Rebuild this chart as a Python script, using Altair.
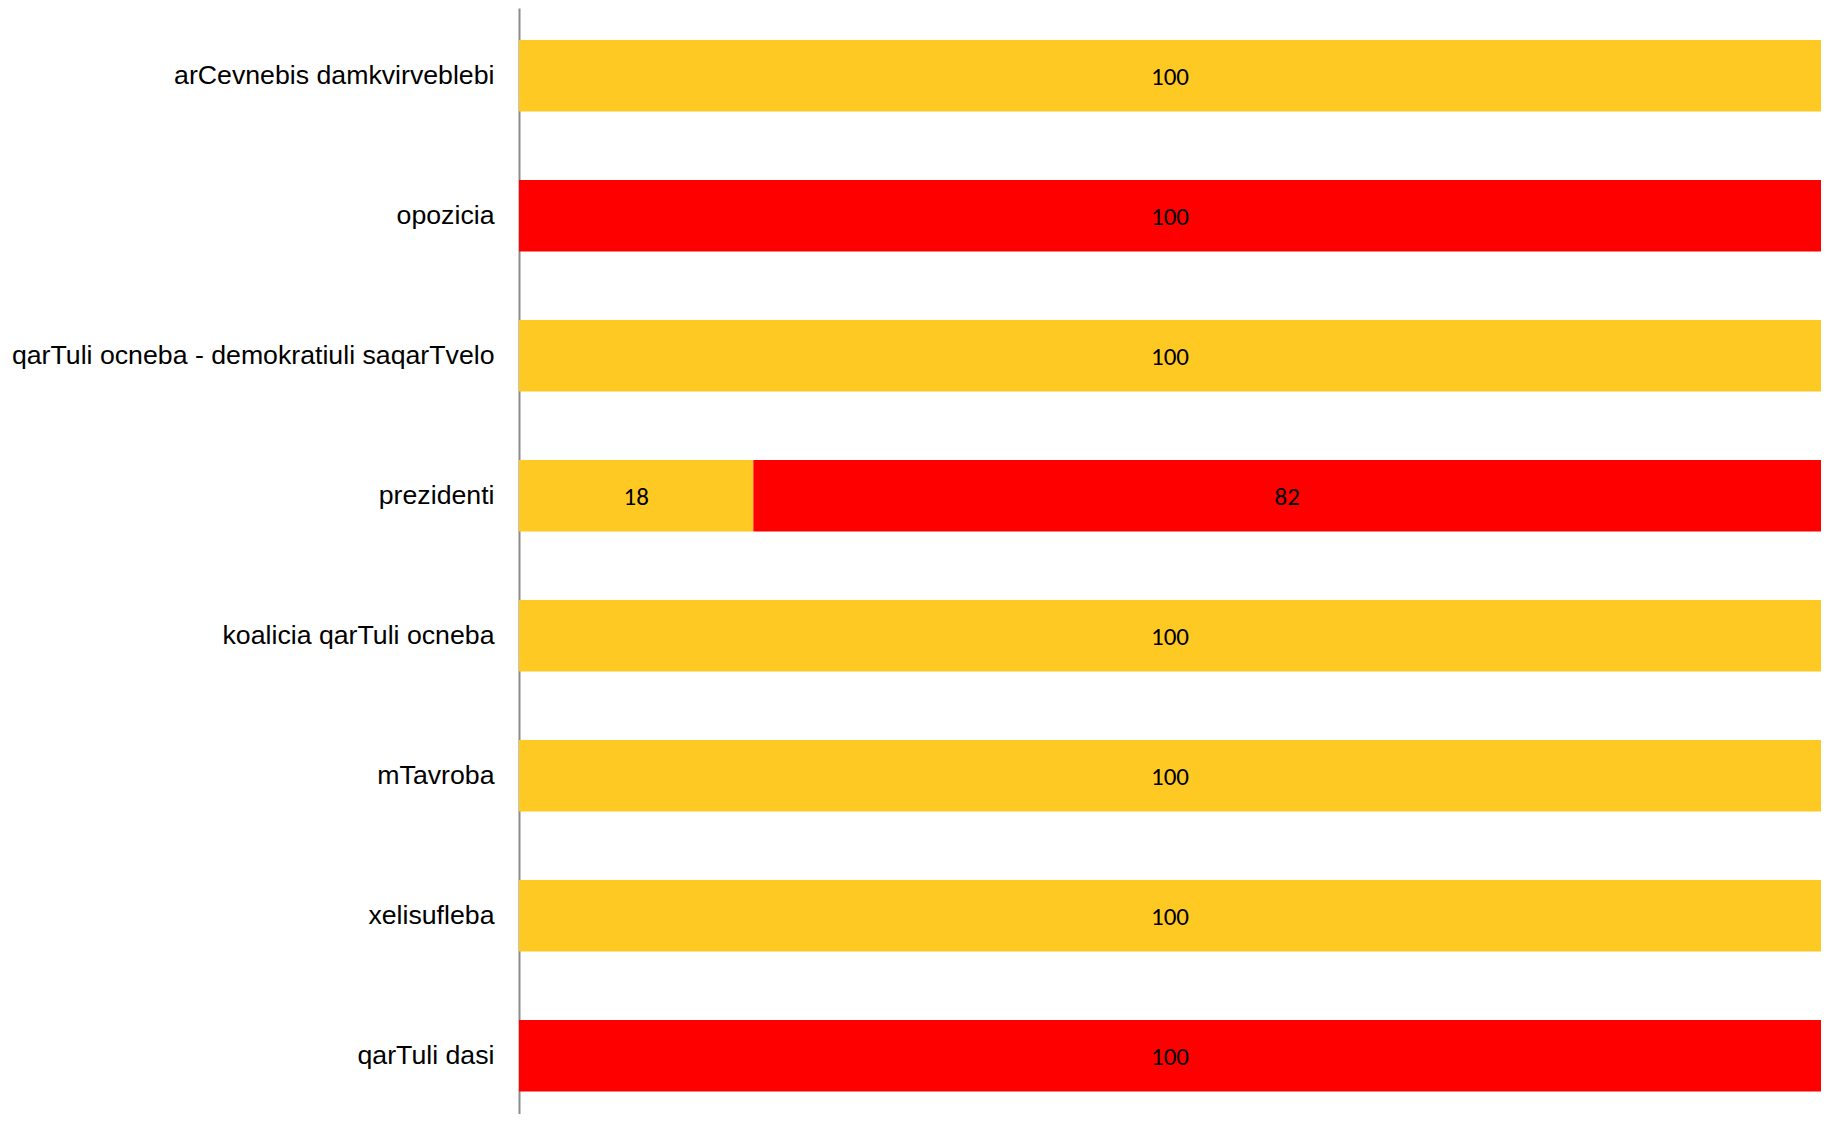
import altair as alt
import pandas as pd

categories = [
    "arCevnebis damkvirveblebi",
    "opozicia",
    "qarTuli ocneba - demokratiuli saqarTvelo",
    "prezidenti",
    "koalicia qarTuli ocneba",
    "mTavroba",
    "xelisufleba",
    "qarTuli dasi",
]
series_names = ["yellow", "red"]
yellow_values = [100, 0, 100, 18, 100, 100, 100, 0]
red_values = [0, 100, 0, 82, 0, 0, 0, 100]
colors = ["#FFC923", "#FF0000"]

rows = []
for i, c in enumerate(categories):
    for k, (s, vals) in enumerate(zip(series_names, [yellow_values, red_values])):
        if vals[i] > 0:
            rows.append({"category": c, "series": s, "order": k, "value": vals[i]})
df = pd.DataFrame(rows)

base = alt.Chart(df).transform_stack(
    stack="value",
    as_=["v0", "v1"],
    groupby=["category"],
    sort=[alt.SortField("order", order="ascending")],
).transform_calculate(mid="(datum.v0 + datum.v1) / 2")

y_enc = alt.Y(
    "category:N",
    sort=categories,
    title=None,
    scale=alt.Scale(paddingInner=0.49, paddingOuter=0.195, align=0.586),
    axis=alt.Axis(
        labelFont="Liberation Sans",
        labelFontSize=26.7,
        labelColor="#000000",
        labelPadding=25,
        ticks=False,
        domainColor="#8C8C8C",
        domainWidth=2,
        labelLimit=600,
        grid=False,
    ),
)

bars = base.mark_bar().encode(
    y=y_enc,
    x=alt.X("v0:Q", scale=alt.Scale(domain=[0, 100], nice=False, zero=True), axis=None),
    x2="v1:Q",
    color=alt.Color(
        "series:N",
        scale=alt.Scale(domain=series_names, range=colors),
        legend=None,
    ),
)

labels = base.mark_text(
    font="Carlito, Liberation Sans Narrow, Liberation Sans",
    fontSize=25,
    color="#000000",
    baseline="middle",
    align="center",
    dy=1,
).encode(
    y=alt.Y("category:N", sort=categories),
    x=alt.X("mid:Q"),
    text=alt.Text("value:Q"),
)

chart = (
    alt.layer(bars, labels)
    .properties(
        width=1302,
        height=1106,
        autosize=alt.AutoSizeParams(type="none"),
        padding={"left": 511, "top": 0, "right": 0, "bottom": 0},
        background="#FFFFFF",
    )
    .configure_view(stroke=None)
)

chart.save("out.html", embed_options={"renderer": "svg", "actions": False})
